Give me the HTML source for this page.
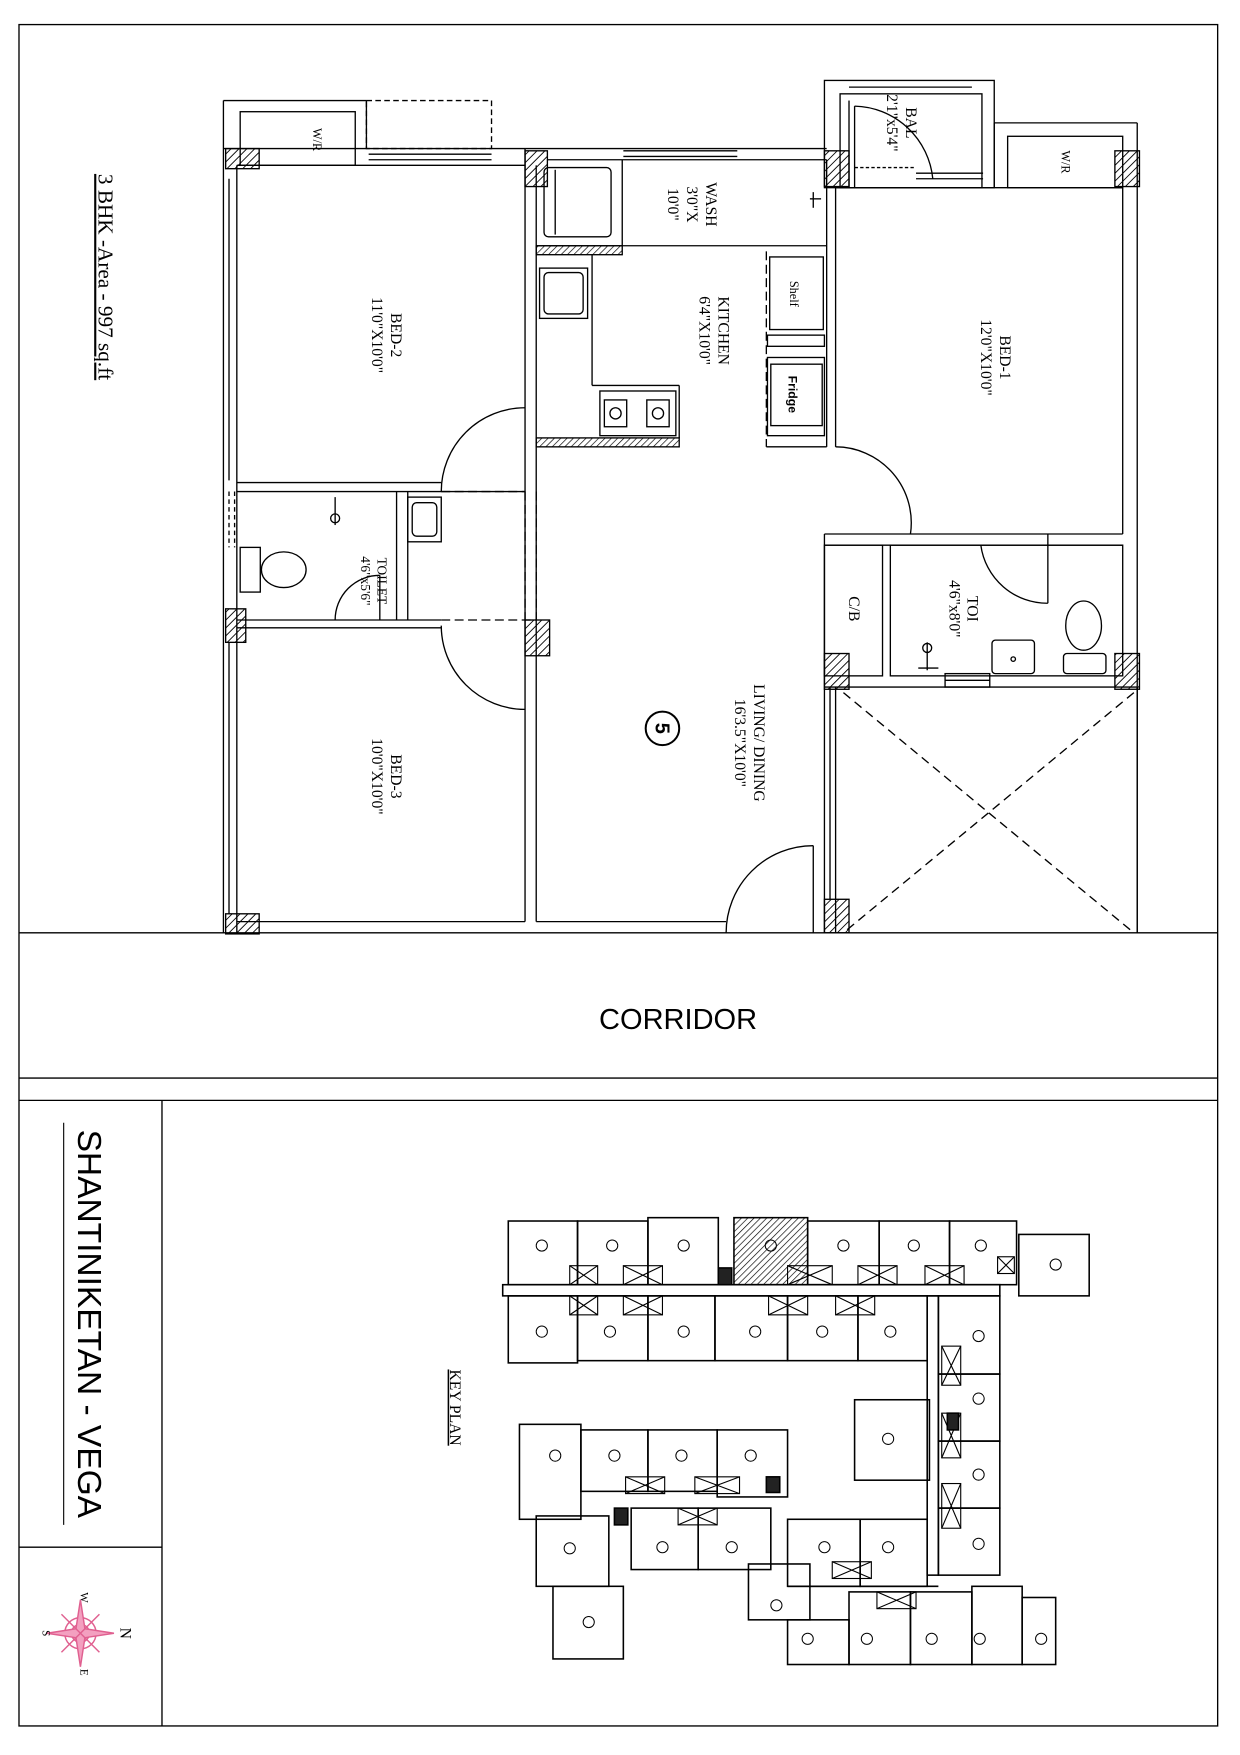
<!DOCTYPE html>
<html><head><meta charset="utf-8"><style>
html,body{margin:0;padding:0;background:#fff;}
svg{display:block;}
text{font-family:"Liberation Serif",serif;fill:#000;}
.s{font-family:"Liberation Sans",sans-serif;}
</style></head><body>
<svg width="1240" height="1755" viewBox="0 0 1110 1571" preserveAspectRatio="none" xmlns="http://www.w3.org/2000/svg">
<defs>
<pattern id="h" width="5" height="5" patternUnits="userSpaceOnUse" patternTransform="rotate(45)"><line x1="0" y1="0" x2="0" y2="5" stroke="#000" stroke-width="1.6"/></pattern>
<pattern id="h2" width="4" height="4" patternUnits="userSpaceOnUse" patternTransform="rotate(45)"><line x1="0" y1="0" x2="0" y2="4" stroke="#000" stroke-width="1.2"/></pattern>
</defs>
<rect width="1110" height="1571" fill="#fff"/>
<g fill="none" stroke="#000" stroke-width="1.2">
<rect x="17" y="22" width="1073" height="1523"/>
<line x1="17" y1="835" x2="1090" y2="835"/>
<line x1="17" y1="965" x2="1090" y2="965"/>
<line x1="17" y1="985" x2="1090" y2="985"/>
<line x1="145" y1="985" x2="145" y2="1545"/>
<line x1="17" y1="1385" x2="145" y2="1385"/>

<line x1="200" y1="90" x2="200" y2="835"/><line x1="212" y1="148" x2="212" y2="835"/>
<line x1="205" y1="160" x2="205" y2="430"/><line x1="205" y1="575" x2="205" y2="818"/>
<line x1="200" y1="90" x2="328" y2="90"/><line x1="328" y1="90" x2="328" y2="133"/>
<rect x="215" y="100" width="103" height="48"/>
<rect x="328" y="90" width="112" height="43" stroke-dasharray="5,3"/>
<line x1="200" y1="133" x2="470" y2="133"/><line x1="212" y1="148" x2="470" y2="148"/>
<line x1="330" y1="138" x2="440" y2="138"/><line x1="330" y1="143" x2="440" y2="143"/>
<line x1="470" y1="133" x2="470" y2="825"/><line x1="480" y1="148" x2="480" y2="825"/>
<line x1="470" y1="133" x2="740" y2="133"/><line x1="490" y1="143" x2="740" y2="143"/>
<line x1="558" y1="135" x2="660" y2="135"/><line x1="558" y1="140" x2="660" y2="140"/>
<line x1="557" y1="143" x2="557" y2="220"/><line x1="480" y1="220" x2="740" y2="220"/>
<rect x="487" y="150" width="60" height="62" rx="4"/>
<line x1="497" y1="152" x2="497" y2="210"/>
<line x1="725" y1="178" x2="735" y2="178"/><line x1="728" y1="172" x2="728" y2="186"/>
<rect x="480" y="220" width="77" height="8" fill="url(#h2)"/>
<rect x="483" y="240" width="43" height="45"/><rect x="487" y="244" width="35" height="37" rx="4"/>
<line x1="530" y1="228" x2="530" y2="345"/><line x1="530" y1="345" x2="608" y2="345"/><line x1="608" y1="345" x2="608" y2="392"/>
<rect x="537" y="350" width="68" height="40"/>
<rect x="541" y="358" width="20" height="24"/><rect x="579" y="358" width="20" height="24"/>
<circle cx="551" cy="370" r="5"/><circle cx="589" cy="370" r="5"/>
<rect x="480" y="392" width="128" height="8" fill="url(#h2)"/>
<line x1="686" y1="225" x2="686" y2="400" stroke-dasharray="8,4"/>
<line x1="686" y1="400" x2="740" y2="400"/>
<rect x="689" y="230" width="48" height="65"/>
<rect x="687" y="300" width="51" height="10"/>
<rect x="690" y="326" width="46" height="55"/><rect x="687" y="320" width="51" height="70"/>
<line x1="740" y1="143" x2="740" y2="400"/><line x1="748" y1="168" x2="748" y2="400"/>
<line x1="738" y1="478" x2="738" y2="835"/><line x1="748" y1="615" x2="748" y2="835"/>
<line x1="743" y1="615" x2="743" y2="805"/>
<rect x="738" y="72" width="152" height="96"/>
<rect x="752" y="84" width="127" height="84"/>
<line x1="760" y1="78" x2="870" y2="78"/>
<line x1="760" y1="90" x2="760" y2="168"/><line x1="765" y1="95" x2="765" y2="168"/>
<line x1="820" y1="155" x2="880" y2="155"/><line x1="820" y1="160" x2="880" y2="160"/>
<line x1="765" y1="150" x2="820" y2="150" stroke-dasharray="3,2"/>
<path d="M765,95 A72,72 0 0 1 835,160"/>
<line x1="890" y1="110" x2="1018" y2="110"/><line x1="890" y1="110" x2="890" y2="168"/>
<rect x="902" y="122" width="103" height="46"/>
<line x1="748" y1="168" x2="1005" y2="168"/>
<line x1="1018" y1="110" x2="1018" y2="835"/><line x1="1005" y1="168" x2="1005" y2="478"/>
<line x1="738" y1="478" x2="1005" y2="478"/>
<path d="M748,400 A68,68 0 0 1 815,478"/>
<rect x="738" y="488" width="52" height="117"/>
<line x1="738" y1="488" x2="1005" y2="488"/>
<rect x="797" y="488" width="208" height="117"/>
<line x1="938" y1="478" x2="938" y2="540"/>
<path d="M878,488 A60,60 0 0 0 938,540"/>
<line x1="738" y1="615" x2="1018" y2="615"/>
<rect x="846" y="603" width="40" height="12"/><line x1="846" y1="609" x2="886" y2="609"/>
<rect x="888" y="573" width="38" height="30" rx="3"/><circle cx="907" cy="590" r="2"/>
<ellipse cx="970" cy="560" rx="16" ry="22"/><rect x="952" y="585" width="38" height="18" rx="3"/>
<line x1="830" y1="575" x2="830" y2="600"/><circle cx="830" cy="580" r="4"/><line x1="822" y1="598" x2="840" y2="598"/>
<line x1="755" y1="620" x2="1015" y2="835" stroke-dasharray="8,5"/>
<line x1="1015" y1="620" x2="755" y2="835" stroke-dasharray="8,5"/>
<line x1="1018" y1="615" x2="1018" y2="835"/>
<line x1="212" y1="432" x2="395" y2="432"/><line x1="212" y1="440" x2="470" y2="440"/>
<line x1="395" y1="440" x2="470" y2="440" stroke-dasharray="8,4"/>
<path d="M395,440 A75,75 0 0 1 470,365"/>
<line x1="205" y1="440" x2="205" y2="490" stroke-dasharray="4,3"/><line x1="210" y1="440" x2="210" y2="490" stroke-dasharray="4,3"/>
<line x1="355" y1="440" x2="355" y2="555"/><line x1="365" y1="440" x2="365" y2="555"/>
<rect x="365" y="445" width="30" height="40"/><rect x="369" y="450" width="22" height="30" rx="4"/>
<rect x="215" y="490" width="18" height="40"/><ellipse cx="254" cy="510" rx="20" ry="16"/>
<line x1="300" y1="445" x2="300" y2="470"/><circle cx="300" cy="464" r="4"/>
<path d="M300,555 A40,40 0 0 1 340,515"/><line x1="340" y1="515" x2="340" y2="555"/>
<line x1="212" y1="555" x2="395" y2="555"/><line x1="212" y1="562" x2="395" y2="562"/>
<line x1="395" y1="555" x2="480" y2="555" stroke-dasharray="8,4"/>
<line x1="470" y1="440" x2="470" y2="555" stroke-dasharray="8,4"/>
<line x1="480" y1="440" x2="480" y2="555" stroke-dasharray="8,4"/>
<path d="M395,560 A75,75 0 0 0 470,635"/>
<line x1="212" y1="825" x2="470" y2="825"/>
<line x1="480" y1="825" x2="650" y2="825"/>
<path d="M650,835 A78,78 0 0 1 728,757"/><line x1="728" y1="757" x2="728" y2="835"/>
<circle cx="593" cy="652" r="15" stroke-width="1.8"/>
</g>
<g fill="url(#h)" stroke="#000" stroke-width="1.2">
<rect x="202" y="133" width="30" height="18"/>
<rect x="470" y="135" width="20" height="32"/>
<rect x="738" y="135" width="22" height="32"/>
<rect x="998" y="135" width="22" height="32"/>
<rect x="202" y="545" width="18" height="30"/>
<rect x="470" y="555" width="22" height="32"/>
<rect x="738" y="585" width="22" height="32"/>
<rect x="998" y="585" width="22" height="32"/>
<rect x="738" y="805" width="22" height="30"/>
<rect x="202" y="818" width="30" height="18"/>
</g>
<g font-size="14" text-anchor="middle">
<text transform="translate(350,300) rotate(90)">BED-2</text>
<text transform="translate(333,300) rotate(90)">11'0"X10'0"</text>
<text transform="translate(643,296) rotate(90)">KITCHEN</text>
<text transform="translate(626,296) rotate(90)">6'4"X10'0"</text>
<text transform="translate(632,183) rotate(90)">WASH</text>
<text transform="translate(615,183) rotate(90)">3'0"X</text>
<text transform="translate(598,183) rotate(90)">10'0"</text>
<text transform="translate(811,110) rotate(90)">BAL</text>
<text transform="translate(794,110) rotate(90)">2'1"x5'4"</text>
<text transform="translate(895,320) rotate(90)">BED-1</text>
<text transform="translate(878,320) rotate(90)">12'0"X10'0"</text>
<text transform="translate(338,520) rotate(90)" font-size="12">TOILET</text>
<text transform="translate(323,520) rotate(90)" font-size="12">4'6"x5'6"</text>
<text transform="translate(866,545) rotate(90)">TOI</text>
<text transform="translate(850,545) rotate(90)">4'6"x8'0"</text>
<text transform="translate(760,545) rotate(90)">C/B</text>
<text transform="translate(675,665) rotate(90)">LIVING/ DINING</text>
<text transform="translate(658,665) rotate(90)">16'3.5"X10'0"</text>
<text transform="translate(350,695) rotate(90)">BED-3</text>
<text transform="translate(333,695) rotate(90)">10'0"X10'0"</text>
<text transform="translate(280,125) rotate(90)" font-size="11">W/R</text>
<text transform="translate(950,145) rotate(90)" font-size="11">W/R</text>
<text transform="translate(707,263) rotate(90)" font-size="11">Shelf</text>
<text class="s" transform="translate(706,353) rotate(90)" font-size="11" font-weight="bold">Fridge</text>
<text class="s" transform="translate(587,652) rotate(90)" font-size="18" font-weight="bold">5</text>
<text transform="translate(88,248) rotate(90)" font-size="19" text-decoration="underline">3 BHK -Area -  997 sq.ft</text>
<text transform="translate(403,1260) rotate(90)" font-size="14" text-decoration="underline">KEY PLAN</text>
<text class="s" transform="translate(70,1185) rotate(90)" font-size="30">SHANTINIKETAN - VEGA</text>
</g>
<text class="s" x="607" y="921" font-size="26" text-anchor="middle">CORRIDOR</text>
<line x1="57" y1="1005" x2="57" y2="1365" stroke="#000" stroke-width="1"/>
<g stroke="#e06090" fill="none" stroke-width="1.3">
<circle cx="72" cy="1462" r="14"/><circle cx="72" cy="1462" r="8"/>
<polygon points="72,1432 76,1458 102,1462 76,1466 72,1492 68,1466 42,1462 68,1458" fill="#f3a0c0"/>
<line x1="55" y1="1445" x2="89" y2="1479"/><line x1="89" y1="1445" x2="55" y2="1479"/>
</g>
<g fill="#e06090" font-size="10" text-anchor="middle">
<text transform="translate(108,1462) rotate(90)" font-size="14">N</text>
<text transform="translate(72,1497) rotate(90)">E</text>
<text transform="translate(72,1430) rotate(90)">W</text>
<text transform="translate(38,1462) rotate(90)">S</text>
</g>
<g fill="none" stroke="#000" stroke-width="1.4">
<rect x="455" y="1093" width="62" height="57"/><rect x="517" y="1093" width="63" height="57"/><rect x="580" y="1090" width="63" height="60"/>
<rect x="657" y="1090" width="66" height="60" fill="url(#h2)"/><rect x="723" y="1093" width="64" height="57"/><rect x="787" y="1093" width="63" height="57"/><rect x="850" y="1093" width="60" height="57"/>
<rect x="912" y="1105" width="63" height="55"/>
<rect x="450" y="1150" width="445" height="10"/>
<rect x="455" y="1160" width="62" height="60"/><rect x="517" y="1160" width="63" height="58"/><rect x="580" y="1160" width="60" height="58"/>
<rect x="640" y="1160" width="65" height="58"/><rect x="705" y="1160" width="63" height="58"/><rect x="768" y="1160" width="62" height="58"/>
<rect x="830" y="1160" width="10" height="250"/>
<rect x="840" y="1160" width="55" height="70"/><rect x="840" y="1230" width="55" height="60"/><rect x="840" y="1290" width="55" height="60"/><rect x="840" y="1350" width="55" height="60"/>
<rect x="765" y="1253" width="67" height="72"/>
<rect x="465" y="1275" width="55" height="85"/><rect x="520" y="1280" width="60" height="55"/><rect x="580" y="1280" width="62" height="55"/><rect x="642" y="1280" width="63" height="60"/>
<rect x="480" y="1357" width="65" height="63"/><rect x="495" y="1420" width="63" height="65"/>
<rect x="565" y="1350" width="60" height="55"/><rect x="625" y="1350" width="65" height="55"/>
<rect x="705" y="1360" width="65" height="60"/><rect x="770" y="1360" width="60" height="60"/>
<rect x="670" y="1400" width="55" height="50"/>
<rect x="705" y="1450" width="55" height="40"/><rect x="760" y="1425" width="55" height="65"/><rect x="815" y="1425" width="55" height="65"/>
<rect x="870" y="1420" width="45" height="70"/><rect x="915" y="1430" width="30" height="60"/>
<line x1="705" y1="1420" x2="840" y2="1420"/>
<g stroke-width="1">
<rect x="510" y="1133" width="25" height="17"/><path d="M510,1133 L535,1150 M535,1133 L510,1150"/>
<rect x="558" y="1133" width="35" height="17"/><path d="M558,1133 L593,1150 M593,1133 L558,1150"/>
<rect x="705" y="1133" width="40" height="17"/><path d="M705,1133 L745,1150 M745,1133 L705,1150"/>
<rect x="768" y="1133" width="35" height="17"/><path d="M768,1133 L803,1150 M803,1133 L768,1150"/>
<rect x="828" y="1133" width="35" height="17"/><path d="M828,1133 L863,1150 M863,1133 L828,1150"/>
<rect x="510" y="1160" width="25" height="17"/><path d="M510,1160 L535,1177 M535,1160 L510,1177"/>
<rect x="558" y="1160" width="35" height="17"/><path d="M558,1160 L593,1177 M593,1160 L558,1177"/>
<rect x="688" y="1160" width="35" height="17"/><path d="M688,1160 L723,1177 M723,1160 L688,1177"/>
<rect x="748" y="1160" width="35" height="17"/><path d="M748,1160 L783,1177 M783,1160 L748,1177"/>
<rect x="843" y="1205" width="17" height="35"/><path d="M843,1205 L860,1240 M860,1205 L843,1240"/>
<rect x="843" y="1265" width="17" height="40"/><path d="M843,1265 L860,1305 M860,1265 L843,1305"/>
<rect x="843" y="1328" width="17" height="40"/><path d="M843,1328 L860,1368 M860,1328 L843,1368"/>
<rect x="560" y="1322" width="35" height="15"/><path d="M560,1322 L595,1337 M595,1322 L560,1337"/>
<rect x="622" y="1322" width="40" height="15"/><path d="M622,1322 L662,1337 M662,1322 L622,1337"/>
<rect x="607" y="1350" width="35" height="15"/><path d="M607,1350 L642,1365 M642,1350 L607,1365"/>
<rect x="745" y="1398" width="35" height="15"/><path d="M745,1398 L780,1413 M780,1398 L745,1413"/>
<rect x="785" y="1425" width="35" height="15"/><path d="M785,1425 L820,1440 M820,1425 L785,1440"/>
<rect x="893" y="1125" width="15" height="15"/><path d="M893,1125 L908,1140 M908,1125 L893,1140"/>
</g>
<rect x="643" y="1135" width="12" height="15" fill="#222"/>
<rect x="848" y="1265" width="10" height="15" fill="#222"/>
<rect x="686" y="1322" width="12" height="14" fill="#222"/>
<rect x="550" y="1350" width="12" height="15" fill="#222"/>
</g>
<g fill="none" stroke="#000" stroke-width="0.9">
<circle cx="485" cy="1115" r="5"/><circle cx="548" cy="1115" r="5"/><circle cx="612" cy="1115" r="5"/><circle cx="690" cy="1115" r="5"/><circle cx="755" cy="1115" r="5"/><circle cx="818" cy="1115" r="5"/><circle cx="878" cy="1115" r="5"/><circle cx="945" cy="1132" r="5"/>
<circle cx="485" cy="1192" r="5"/><circle cx="546" cy="1192" r="5"/><circle cx="612" cy="1192" r="5"/><circle cx="676" cy="1192" r="5"/><circle cx="736" cy="1192" r="5"/><circle cx="797" cy="1192" r="5"/>
<circle cx="876" cy="1196" r="5"/><circle cx="876" cy="1252" r="5"/><circle cx="876" cy="1320" r="5"/><circle cx="876" cy="1382" r="5"/>
<circle cx="795" cy="1288" r="5"/>
<circle cx="497" cy="1303" r="5"/><circle cx="550" cy="1303" r="5"/><circle cx="610" cy="1303" r="5"/><circle cx="672" cy="1303" r="5"/>
<circle cx="510" cy="1386" r="5"/><circle cx="527" cy="1452" r="5"/><circle cx="593" cy="1385" r="5"/><circle cx="655" cy="1385" r="5"/>
<circle cx="738" cy="1385" r="5"/><circle cx="795" cy="1385" r="5"/><circle cx="695" cy="1437" r="5"/><circle cx="723" cy="1467" r="5"/><circle cx="776" cy="1467" r="5"/><circle cx="834" cy="1467" r="5"/><circle cx="877" cy="1467" r="5"/><circle cx="932" cy="1467" r="5"/>
</g>
</svg>
</body></html>
